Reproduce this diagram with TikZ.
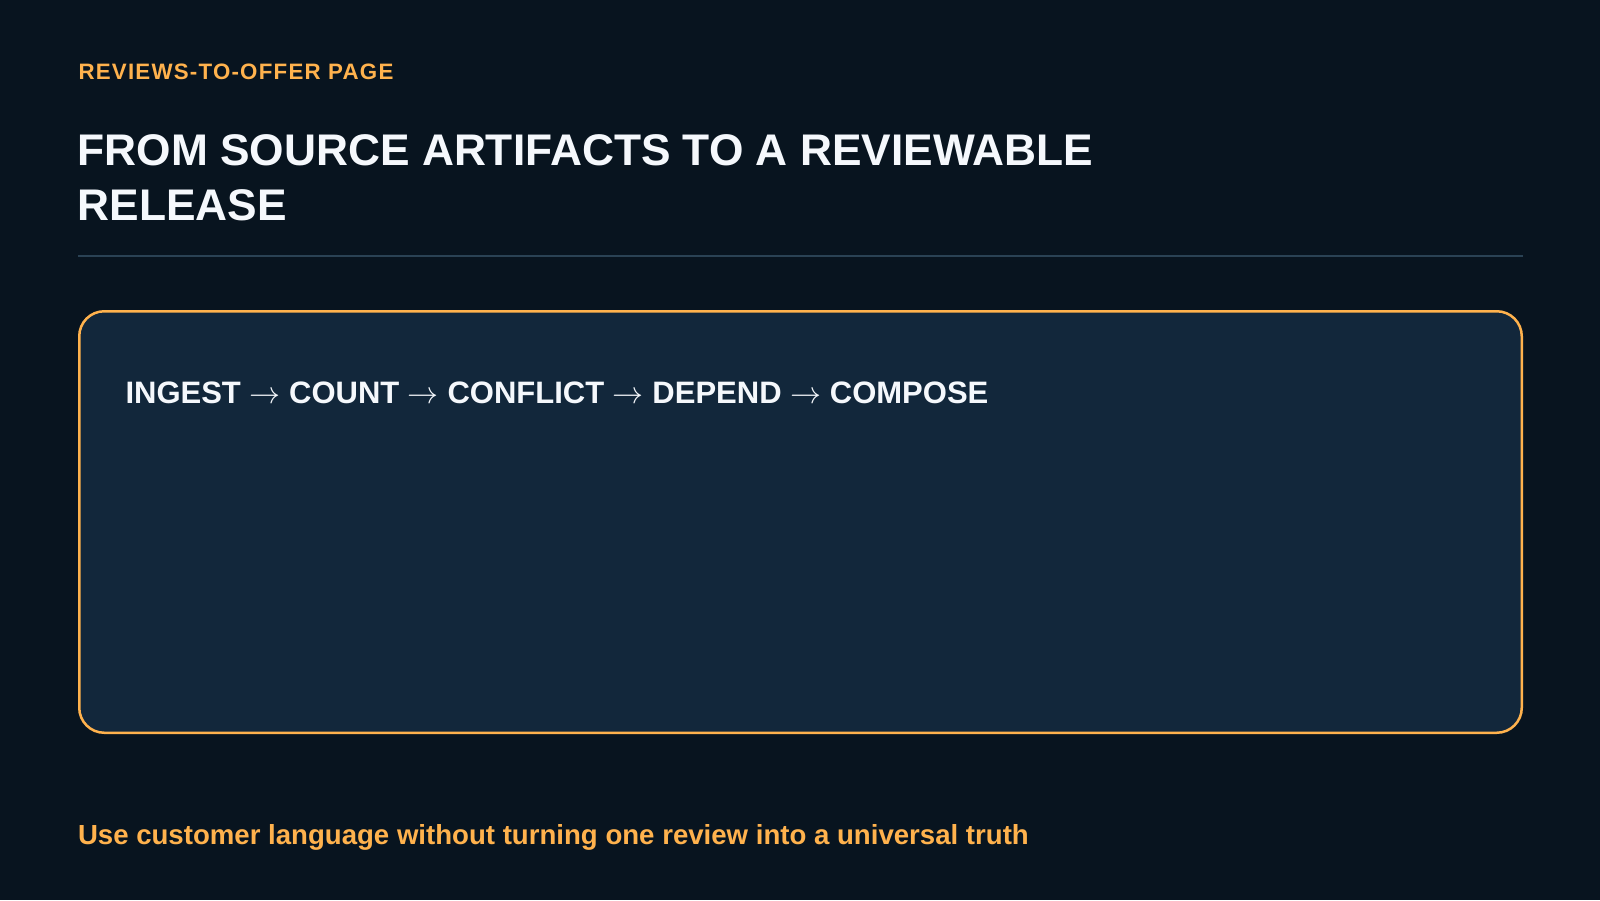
\RequirePackage{fix-cm}
\documentclass[tikz,border=0pt]{standalone}
\usepackage{fontspec}
\setmainfont{Liberation Sans}
\definecolor{bgc}{HTML}{08141F}
\definecolor{boxfill}{HTML}{12273B}
\definecolor{accent}{HTML}{FFB24D}
\definecolor{rulec}{HTML}{2A4254}
\definecolor{titlec}{HTML}{F5F8FC}
\newcommand{\flowarrow}{\ensuremath{\rightarrow}}
\tikzset{
  txt/.style={inner sep=0pt, outer sep=0pt, anchor=base west},
  kicker/.style={txt, text=accent, font=\fontsize{22.3}{26}\selectfont\bfseries\addfontfeature{LetterSpace=5.5}},
  titlestyle/.style={txt, text=titlec, align=left, font=\fontsize{44.3}{55}\selectfont\bfseries},
  flowstyle/.style={txt, text=titlec, font=\fontsize{31}{36}\selectfont\bfseries},
  footstyle/.style={txt, text=accent, font=\fontsize{27.6}{32}\selectfont\bfseries},
  panel/.style={draw=accent, line width=2.5pt, fill=boxfill, rounded corners=25pt},
}
\begin{document}
\begin{tikzpicture}[x=1pt,y=-1pt]
  \fill[bgc] (0,0) rectangle (1600,900);
  \useasboundingbox (0,0) rectangle (1600,900);
  \node[kicker] (kick) at (78.5,79) {REVIEWS-TO-OFFER PAGE};
  \node[titlestyle] (title) at (77.5,220) {FROM SOURCE ARTIFACTS TO A REVIEWABLE\\RELEASE};
  \coordinate (ruleL) at (78,255.5);
  \coordinate (ruleR) at (1523,255.5);
  \draw[rulec, line width=2pt] (ruleL) -- (ruleR);
  \draw[panel] (79.25,311.25) rectangle (1521.75,732.75);
  \node[flowstyle] (flow) at (125.5,403) {INGEST \flowarrow{} COUNT \flowarrow{} CONFLICT \flowarrow{} DEPEND \flowarrow{} COMPOSE};
  \node[footstyle] (foot) at (78,844) {Use customer language without turning one review into a universal truth};
\end{tikzpicture}
\end{document}
